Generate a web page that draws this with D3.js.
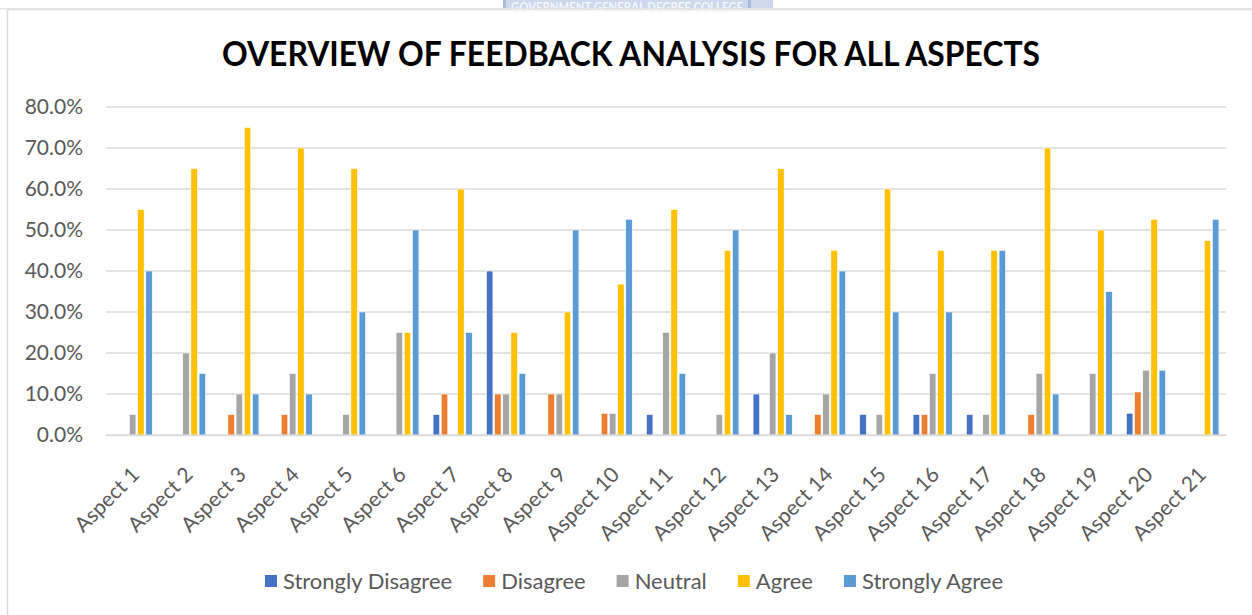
<!DOCTYPE html>
<html>
<head>
<meta charset="utf-8">
<script src="https://cdn.jsdelivr.net/npm/d3@7"></script>
<style>
  body { margin: 0; background: #fff; }
  svg { display: block; font-family: Lato, "Open Sans", sans-serif; }
</style>
</head>
<body>
<div id="chart"></div>
<script>

// categories
var categories = ["Aspect 1", "Aspect 2", "Aspect 3", "Aspect 4", "Aspect 5", "Aspect 6", "Aspect 7",
  "Aspect 8", "Aspect 9", "Aspect 10", "Aspect 11", "Aspect 12", "Aspect 13", "Aspect 14",
  "Aspect 15", "Aspect 16", "Aspect 17", "Aspect 18", "Aspect 19", "Aspect 20", "Aspect 21"];

var seriesNames = ["Strongly Disagree", "Disagree", "Neutral", "Agree", "Strongly Agree"];

// percentages per aspect
var stronglyDisagree = [0, 0, 0, 0, 0, 0, 5, 40, 0, 0, 5, 0, 10, 0, 5, 5, 5, 0, 0, 5.3, 0];
var disagree         = [0, 0, 5, 5, 0, 0, 10, 10, 10, 5.3, 0, 0, 0, 5, 0, 5, 0, 5, 0, 10.5, 0];
var neutral          = [5, 20, 10, 15, 5, 25, 0, 10, 10, 5.3, 25, 5, 20, 10, 5, 15, 5, 15, 15, 15.8, 0];
var agree            = [55, 65, 75, 70, 65, 25, 60, 25, 30, 36.8, 55, 45, 65, 45, 60, 45, 45, 70, 50, 52.6, 47.4];
var stronglyAgree    = [40, 15, 10, 10, 30, 50, 25, 15, 50, 52.6, 15, 50, 5, 40, 30, 30, 45, 10, 35, 15.8, 52.6];

var yTicks = [0, 10, 20, 30, 40, 50, 60, 70, 80];

var colors = ["#4472C4", "#ED7D31", "#A5A5A5", "#FFC000", "#5B9BD5"];

var W = 1252, H = 615;
var plot = { left: 106, right: 1226, top: 107, bottom: 435 };

var svg = d3.select("#chart").append("svg")
  .attr("width", W)
  .attr("height", H);

// chart frame
svg.append("rect")
  .attr("x", 7.5).attr("y", 9.5)
  .attr("width", W + 10).attr("height", H + 10)
  .attr("fill", "none")
  .attr("stroke", "#d9d9d9")
  .attr("stroke-width", 1.5);

// banner at the top, cut by the page edge as in the source
svg.append("rect")
  .attr("x", 503).attr("y", -2)
  .attr("width", 270).attr("height", 10)
  .attr("fill", "#cdd8ec");
svg.append("rect").attr("x", 503).attr("y", 0).attr("width", 3).attr("height", 8).attr("fill", "#a9bbdc");
svg.append("rect").attr("x", 748).attr("y", 0).attr("width", 3).attr("height", 8).attr("fill", "#a9bbdc");
svg.append("text")
  .attr("x", 627).attr("y", 12)
  .attr("text-anchor", "middle")
  .attr("textLength", 232)
  .attr("lengthAdjust", "spacingAndGlyphs")
  .style("font-size", "13px")
  .style("font-weight", "bold")
  .attr("fill", "#f4f7fc")
  .text("GOVERNMENT GENERAL DEGREE COLLEGE");
svg.append("rect")
  .attr("x", 0).attr("y", 8)
  .attr("width", W).attr("height", 1.5)
  .attr("fill", "#e3e3e3");

// title
svg.append("text")
  .attr("x", 631).attr("y", 66)
  .attr("text-anchor", "middle")
  .attr("textLength", 818)
  .attr("lengthAdjust", "spacingAndGlyphs")
  .style("font-size", "34px")
  .style("font-weight", "bold")
  .attr("fill", "#000")
  .text("OVERVIEW OF FEEDBACK ANALYSIS FOR ALL ASPECTS");

var x0 = d3.scaleBand()
  .domain(categories)
  .range([plot.left, plot.right]);

var x1 = d3.scaleBand()
  .domain(seriesNames)
  .range([-19.6, 19.6])
  .paddingInner(0.2);

var y = d3.scaleLinear()
  .domain([0, 80])
  .range([plot.bottom, plot.top]);

// gridlines
svg.append("g")
  .selectAll("line")
  .data(yTicks).enter()
  .append("line")
  .attr("x1", plot.left).attr("x2", plot.right)
  .attr("y1", function (d) { return y(d); })
  .attr("y2", function (d) { return y(d); })
  .attr("stroke", "#d9d9d9")
  .attr("stroke-width", 1.5);

// y axis labels
var yAxis = d3.axisLeft(y)
  .tickValues(yTicks)
  .tickSize(0)
  .tickPadding(0)
  .tickFormat(function (d) { return d.toFixed(1) + "%"; });

var yg = svg.append("g")
  .attr("transform", "translate(83,0)")
  .call(yAxis);
yg.select(".domain").remove();
yg.selectAll("text")
  .style("font-size", "21px")
  .style("font-family", "Lato, sans-serif")
  .attr("fill", "#595959");

// bars
var seriesData = [stronglyDisagree, disagree, neutral, agree, stronglyAgree];

var rows = categories.map(function (c, i) {
  return seriesNames.map(function (s, j) {
    return { cat: c, series: s, idx: j, value: seriesData[j][i] };
  });
});

var groups = svg.append("g")
  .selectAll("g")
  .data(rows).enter()
  .append("g")
  .attr("transform", function (d) {
    return "translate(" + (x0(d[0].cat) + x0.bandwidth() / 2) + ",0)";
  });

groups.selectAll("rect")
  .data(function (d) { return d.filter(function (b) { return b.value > 0; }); })
  .enter()
  .append("rect")
  .attr("x", function (d) { return x1(d.series); })
  .attr("width", x1.bandwidth())
  .attr("y", function (d) { return y(d.value); })
  .attr("height", function (d) { return y(0) - y(d.value); })
  .attr("fill", function (d) { return colors[d.idx]; })
  .attr("stroke", "#fff")
  .attr("stroke-width", 0.6);

// x axis
var xAxis = d3.axisBottom(x0).tickSize(0).tickPadding(0);
var xg = svg.append("g")
  .attr("transform", "translate(0," + plot.bottom + ")")
  .call(xAxis);
xg.select(".domain")
  .attr("stroke", "#d9d9d9")
  .attr("stroke-width", 1.5);
xg.selectAll("text")
  .attr("y", 0).attr("dy", 0)
  .attr("text-anchor", "end")
  .attr("transform", "translate(8,41) rotate(-45)")
  .style("font-size", "21px")
  .style("font-family", "Lato, sans-serif")
  .attr("fill", "#595959");

// legend
var legend = svg.append("g");
var items = legend.selectAll("g")
  .data(seriesNames).enter()
  .append("g");

items.append("rect")
  .attr("width", 12).attr("height", 12)
  .attr("y", 575)
  .attr("fill", function (d, i) { return colors[i]; });

items.append("text")
  .attr("x", 18)
  .attr("y", 589)
  .style("font-size", "22px")
  .attr("fill", "#595959")
  .text(function (d) { return d; });

var gap = 31;
var pos = 0;
items.each(function () {
  var g = d3.select(this);
  g.attr("transform", "translate(" + pos + ",0)");
  pos += 18 + g.select("text").node().getComputedTextLength() + gap;
});
var legendWidth = pos - gap;
legend.attr("transform", "translate(" + (634 - legendWidth / 2) + ",0)");

</script>
</body>
</html>
